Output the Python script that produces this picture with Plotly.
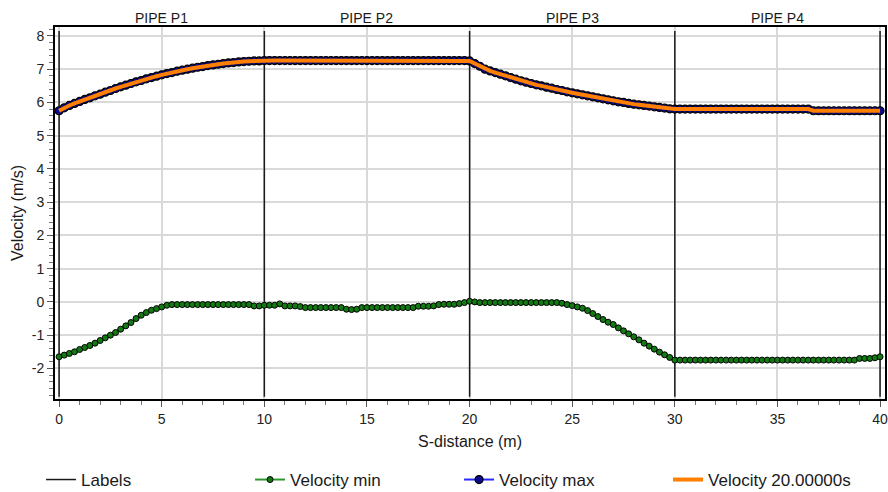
import plotly.graph_objects as go

# ---------------- data ----------------
STEP = 0.25
distance = [round(i * STEP, 2) for i in range(161)]

vel_min = [
    # PIPE P1 (0 - 9.75)
    -1.65, -1.60, -1.55, -1.50, -1.43, -1.37, -1.31, -1.24, -1.16, -1.08,
    -1.00, -0.92, -0.82, -0.72, -0.62, -0.50, -0.40, -0.32, -0.25, -0.20,
    -0.15, -0.10, -0.08, -0.08, -0.08, -0.08, -0.08, -0.08, -0.08, -0.08,
    -0.08, -0.08, -0.08, -0.08, -0.08, -0.08, -0.08, -0.08, -0.12, -0.12,
    # PIPE P2 (10 - 19.75)
    -0.10, -0.10, -0.10, -0.06, -0.12, -0.12, -0.12, -0.14, -0.17, -0.17,
    -0.17, -0.17, -0.17, -0.17, -0.17, -0.17, -0.22, -0.23, -0.22, -0.17,
    -0.17, -0.17, -0.17, -0.17, -0.17, -0.17, -0.17, -0.17, -0.17, -0.17,
    -0.13, -0.13, -0.13, -0.12, -0.08, -0.07, -0.07, -0.07, -0.05, -0.02,
    # PIPE P3 (20 - 29.75)
    0.02, 0.00, -0.02, -0.02, -0.02, -0.02, -0.02, -0.02, -0.02, -0.02,
    -0.02, -0.02, -0.02, -0.02, -0.02, -0.02, -0.02, -0.02, -0.04, -0.08,
    -0.11, -0.15, -0.19, -0.26, -0.35, -0.44, -0.53, -0.61, -0.68, -0.78,
    -0.87, -0.96, -1.05, -1.14, -1.24, -1.33, -1.42, -1.51, -1.59, -1.67,
    # PIPE P4 (30 - 40)
    -1.75, -1.75, -1.75, -1.75, -1.75, -1.75, -1.75, -1.75, -1.75, -1.75,
    -1.75, -1.75, -1.75, -1.75, -1.75, -1.75, -1.75, -1.75, -1.75, -1.75,
    -1.75, -1.75, -1.75, -1.75, -1.75, -1.75, -1.75, -1.75, -1.75, -1.75,
    -1.75, -1.75, -1.75, -1.75, -1.75, -1.75, -1.70, -1.70, -1.70, -1.68,
    -1.65,
]

vel_max = [
    # PIPE P1
    5.75, 5.84, 5.91, 5.97, 6.03, 6.09, 6.14, 6.20, 6.25, 6.31,
    6.36, 6.42, 6.47, 6.52, 6.57, 6.62, 6.66, 6.71, 6.75, 6.79,
    6.83, 6.87, 6.90, 6.94, 6.97, 7.00, 7.03, 7.06, 7.08, 7.11,
    7.13, 7.15, 7.17, 7.19, 7.20, 7.22, 7.23, 7.24, 7.25, 7.25,
    # PIPE P2
    7.26, 7.26, 7.26, 7.26, 7.26, 7.26, 7.26, 7.26, 7.26, 7.26,
    7.26, 7.26, 7.26, 7.26, 7.26, 7.26, 7.26, 7.26, 7.26, 7.26,
    7.26, 7.26, 7.26, 7.26, 7.26, 7.26, 7.26, 7.26, 7.26, 7.26,
    7.26, 7.26, 7.26, 7.26, 7.26, 7.26, 7.26, 7.26, 7.26, 7.26,
    # PIPE P3
    7.25, 7.17, 7.09, 7.00, 6.95, 6.90, 6.85, 6.80, 6.75, 6.70,
    6.65, 6.61, 6.57, 6.53, 6.50, 6.46, 6.43, 6.39, 6.36, 6.32,
    6.29, 6.26, 6.23, 6.20, 6.17, 6.14, 6.11, 6.08, 6.05, 6.02,
    6.00, 5.97, 5.95, 5.93, 5.91, 5.89, 5.87, 5.85, 5.83, 5.81,
    # PIPE P4
    5.80, 5.80, 5.80, 5.80, 5.80, 5.80, 5.80, 5.80, 5.80, 5.80,
    5.80, 5.80, 5.80, 5.80, 5.80, 5.80, 5.80, 5.80, 5.80, 5.80,
    5.80, 5.80, 5.80, 5.80, 5.80, 5.80, 5.80, 5.75, 5.75, 5.75,
    5.75, 5.75, 5.75, 5.75, 5.75, 5.75, 5.75, 5.75, 5.75, 5.75,
    5.75,
]

vel_20s = list(vel_max)  # indistinguishable from the max envelope at t = 20 s

label_x = [0, 10, 20, 30, 40]
label_y_span = [8.15, -2.85]
pipe_names = ["PIPE P1", "PIPE P2", "PIPE P3", "PIPE P4"]

x_ticks = [0, 5, 10, 15, 20, 25, 30, 35, 40]
y_ticks = [-2, -1, 0, 1, 2, 3, 4, 5, 6, 7, 8]
y_tick_text = ["-2", "-1", "0", "1", "2", "3", "4", "5", "6", "7", "8"]

# ---------------- figure ----------------
FONT = "Liberation Sans, Arial, sans-serif"

lx, ly = [], []
for xv in label_x:
    lx += [xv, xv, None]
    ly += [label_y_span[0], label_y_span[1], None]

fig = go.Figure()
fig.add_trace(go.Scatter(
    x=lx, y=ly, mode="lines", name="Labels",
    line=dict(color="#1a1a1a", width=1.5), hoverinfo="skip"))
fig.add_trace(go.Scatter(
    x=distance, y=vel_min, mode="lines+markers", name="Velocity min",
    line=dict(color="#2e9a2e", width=2),
    marker=dict(size=6, color="#137a13", line=dict(color="#000000", width=1))))
fig.add_trace(go.Scatter(
    x=distance, y=vel_max, mode="lines+markers", name="Velocity max",
    line=dict(color="#2a2aff", width=2),
    marker=dict(size=8, color="#0a0a90", line=dict(color="#000000", width=1.2))))
fig.add_trace(go.Scatter(
    x=distance, y=vel_20s, mode="lines", name="Velocity 20.00000s",
    line=dict(color="#ff8000", width=4)))

for i, name in enumerate(pipe_names):
    fig.add_annotation(
        x=(label_x[i] + label_x[i + 1]) / 2, xref="x",
        y=1.0, yref="paper", yanchor="bottom", yshift=-1,
        text=name, showarrow=False,
        font=dict(family=FONT, size=14, color="#1a1a1a"))

axis_common = dict(
    showline=True, mirror=True, linecolor="#000000", linewidth=2,
    showgrid=True, gridcolor="#d9d9d9", gridwidth=1.5,
    ticks="outside", ticklen=6, tickcolor="#555555", tickwidth=1,
    zeroline=False, automargin=False, ticklabeloverflow="allow",
    tickfont=dict(family=FONT, size=14, color="#222222"),
)

fig.update_xaxes(
    range=[-0.2, 40.24], tickvals=x_ticks,
    minor=dict(dtick=1, ticks="outside", ticklen=4, tickcolor="#777777", showgrid=False),
    title=dict(text="S-distance (m)", font=dict(family=FONT, size=16, color="#1a1a1a"), standoff=10),
    **axis_common)
fig.update_yaxes(
    range=[-2.92, 8.27], tickvals=y_ticks, ticktext=y_tick_text,
    minor=dict(dtick=0.2, ticks="outside", ticklen=4, tickcolor="#777777", showgrid=False),
    title=dict(text="Velocity (m/s)", font=dict(family=FONT, size=16, color="#1a1a1a"), standoff=4),
    **axis_common)

fig.update_layout(
    width=888, height=492,
    margin=dict(l=55, r=3, t=27, b=93, autoexpand=False),
    paper_bgcolor="white", plot_bgcolor="white",
    font=dict(family=FONT, color="#1a1a1a"),
    showlegend=True,
    legend=dict(
        orientation="h",
        x=-0.0168, xanchor="left",
        y=-0.2177, yanchor="middle",
        entrywidth=164, entrywidthmode="pixels",
        font=dict(family=FONT, size=17, color="#1a1a1a"),
        bgcolor="rgba(0,0,0,0)", itemclick=False,
    ),
)

fig.write_html(
    "out.html",
    config={"displayModeBar": False},
    post_script="document.body.style.margin='0px';document.body.style.overflow='hidden';",
)
